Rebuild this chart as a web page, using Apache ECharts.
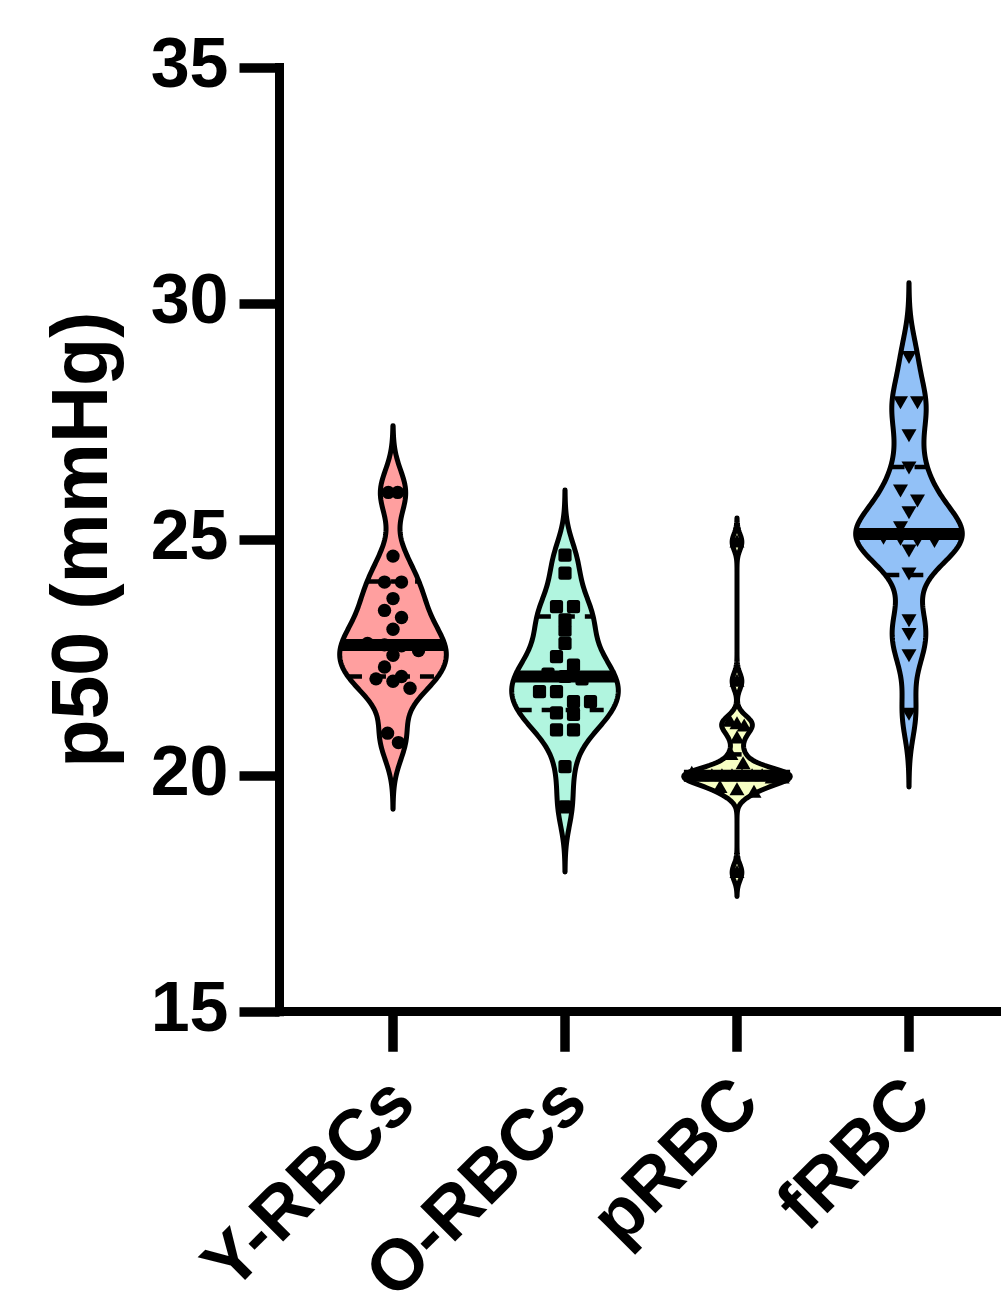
<!DOCTYPE html>
<html><head><meta charset="utf-8">
<script src="https://cdn.jsdelivr.net/npm/echarts@6/dist/echarts.min.js"></script>
<style>html,body{margin:0;padding:0;background:#fff}#c{width:1001px;height:1307px}</style>
</head><body><div id="c"></div>
<script>
const categories = ['Y-RBCs', 'O-RBCs', 'pRBC', 'fRBC'];
const yRBCs = [26.0, 26.0, 24.65, 24.1, 24.1, 23.75, 23.5, 23.35, 23.1, 22.8, 22.77, 22.75, 22.65, 22.55, 22.3, 22.1, 22.05, 22.0, 21.85, 20.9, 20.7];
const oRBCs = [24.67, 24.29, 23.58, 23.58, 23.3, 23.08, 22.8, 22.52, 22.34, 22.15, 22.1, 22.05, 21.78, 21.78, 21.57, 21.57, 21.33, 21.3, 20.97, 20.97, 20.19, 19.34];
const pRBC = [24.95, 22.0, 21.15, 21.1, 21.05, 20.8, 20.45, 20.25, 20.05, 20.0, 20.0, 20.0, 20.0, 20.0, 20.0, 20.0, 19.95, 19.95, 19.75, 19.7, 19.65, 17.95];
const fRBC = [28.88, 27.92, 27.92, 27.22, 26.54, 26.05, 25.84, 25.59, 25.27, 25.1, 25.05, 25.03, 25.0, 24.98, 24.78, 24.29, 23.3, 23.01, 22.56, 21.32];
const medians = [22.77, 22.10, 20.0, 25.12];
const q1 = [22.10, 21.39, 19.95, 24.25];
const q3 = [24.11, 23.37, 20.45, 26.54];
const yTicks = [15, 20, 25, 30, 35];

const groups = [yRBCs, oRBCs, pRBC, fRBC];
const bandwidths = [0.47, 0.46, 0.17, 0.52];
const fills = ['#FF9F9F', '#B1F5DF', '#F7FFC4', '#92C1F7'];
const markers = ['circle', 'square', 'up', 'down'];
const HALF_W = 0.31;
const FONT = "'Liberation Sans', Arial, sans-serif";

function markerShape(kind, cx, cy) {
  const st = { fill: '#000' };
  if (kind === 'circle') return { type: 'circle', shape: { cx, cy, r: 6.7 }, style: st };
  if (kind === 'square') return { type: 'rect', shape: { x: cx - 6.6, y: cy - 6.6, width: 13.2, height: 13.2, r: 2.5 }, style: st };
  if (kind === 'up') return { type: 'polygon', shape: { points: [[cx, cy - 7.5], [cx + 7.5, cy + 5.5], [cx - 7.5, cy + 5.5]] }, style: st };
  return { type: 'polygon', shape: { points: [[cx - 7.5, cy - 5.5], [cx + 7.5, cy - 5.5], [cx, cy + 7.5]] }, style: st };
}

function violinRenderer(g) {
  return function (params, api) {
    const vals = groups[g];
    const h = bandwidths[g];
    const xc = g + 1;
    const lo = Math.min(...vals) - 3 * h, hi = Math.max(...vals) + 3 * h;
    const dens = y => vals.reduce((s, v) => s + Math.exp(-0.5 * ((y - v) / h) ** 2), 0);
    const N = 300, ys = [], ds = [];
    for (let i = 0; i <= N; i++) { const y = lo + (hi - lo) * i / N; ys.push(y); ds.push(dens(y)); }
    const dmax = Math.max(...ds);
    const hw = y => HALF_W * dens(y) / dmax;
    const right = ys.map((y, i) => api.coord([xc + HALF_W * ds[i] / dmax, y]));
    const left = ys.map((y, i) => api.coord([xc - HALF_W * ds[i] / dmax, y])).reverse();
    const children = [];
    children.push({ type: 'polygon', shape: { points: right.concat(left) },
      style: { fill: fills[g], stroke: '#000', lineWidth: 5, lineJoin: 'round' } });

    // points (simple row-based swarm)
    const pxPerX = api.size([1, 0])[0];
    const pts = vals.map(v => ({ v, p: api.coord([xc, v]) })).sort((a, b) => a.p[1] - b.p[1]);
    const rows = [];
    pts.forEach(pt => {
      const r = rows[rows.length - 1];
      if (r && pt.p[1] - r[0].p[1] < 10) r.push(pt); else rows.push([pt]);
    });
    rows.forEach(r => {
      const k = r.length;
      let sp = 17;
      const avgV = r.reduce((s, p) => s + p.v, 0) / k;
      const avail = hw(avgV) * pxPerX - 8;
      if (k > 1 && (k - 1) / 2 * sp > avail) sp = Math.max(3, 2 * avail / (k - 1));
      r.forEach((pt, i) => {
        children.push(markerShape(markers[g], pt.p[0] + (i - (k - 1) / 2) * sp, pt.p[1]));
      });
    });

    // quartile and median lines
    [[q3[g], false], [q1[g], false], [medians[g], true]].forEach(([q, isMed]) => {
      const w = hw(q);
      const a = api.coord([xc - w, q]), b = api.coord([xc + w, q]);
      children.push({ type: 'line', shape: { x1: a[0], y1: a[1], x2: b[0], y2: b[1] },
        style: isMed ? { stroke: '#000', lineWidth: 12 } : { stroke: '#000', lineWidth: 4.5, lineDash: [14, 10] } });
    });
    return { type: 'group', children };
  };
}

const chart = echarts.init(document.getElementById('c'), null, { renderer: 'canvas' });
chart.setOption({
  animation: false,
  backgroundColor: '#fff',
  grid: { left: 279.5, right: 0, top: 67.5, bottom: 295.3, containLabel: false, outerBoundsMode: 'none' },
  xAxis: {
    type: 'value', min: 0.34, max: 4.535,
    splitLine: { show: false },
    axisLine: { show: true, onZero: false, lineStyle: { color: '#000', width: 9, cap: 'square' } },
    axisTick: { show: true, customValues: [1, 2, 3, 4], length: 40, lineStyle: { color: '#000', width: 9.5 } },
    axisLabel: { show: true, customValues: [1, 2, 3, 4], formatter: v => categories[Math.round(v) - 1],
      rotate: 45, margin: 92, padding: [0, -16, 0, 0], color: '#000', fontSize: 72, fontWeight: 'bold', fontFamily: FONT }
  },
  yAxis: {
    type: 'value', min: yTicks[0], max: yTicks[yTicks.length - 1], interval: yTicks[1] - yTicks[0],
    name: 'p50 (mmHg)', nameLocation: 'middle', nameGap: 155, nameRotate: 90,
    nameTextStyle: { color: '#000', fontSize: 79, fontWeight: 'bold', fontFamily: FONT },
    splitLine: { show: false },
    axisLine: { show: true, lineStyle: { color: '#000', width: 9, cap: 'square' } },
    axisTick: { show: true, length: 40, lineStyle: { color: '#000', width: 9.5 } },
    axisLabel: { margin: 51, color: '#000', fontSize: 70, fontWeight: 'bold', fontFamily: FONT }
  },
  series: groups.map((vals, g) => ({
    type: 'custom', name: categories[g],
    renderItem: violinRenderer(g),
    encode: { x: 0, y: 1 },
    data: [[g + 1, medians[g]]],
    clip: false, z: 2
  }))
});
</script></body></html>
